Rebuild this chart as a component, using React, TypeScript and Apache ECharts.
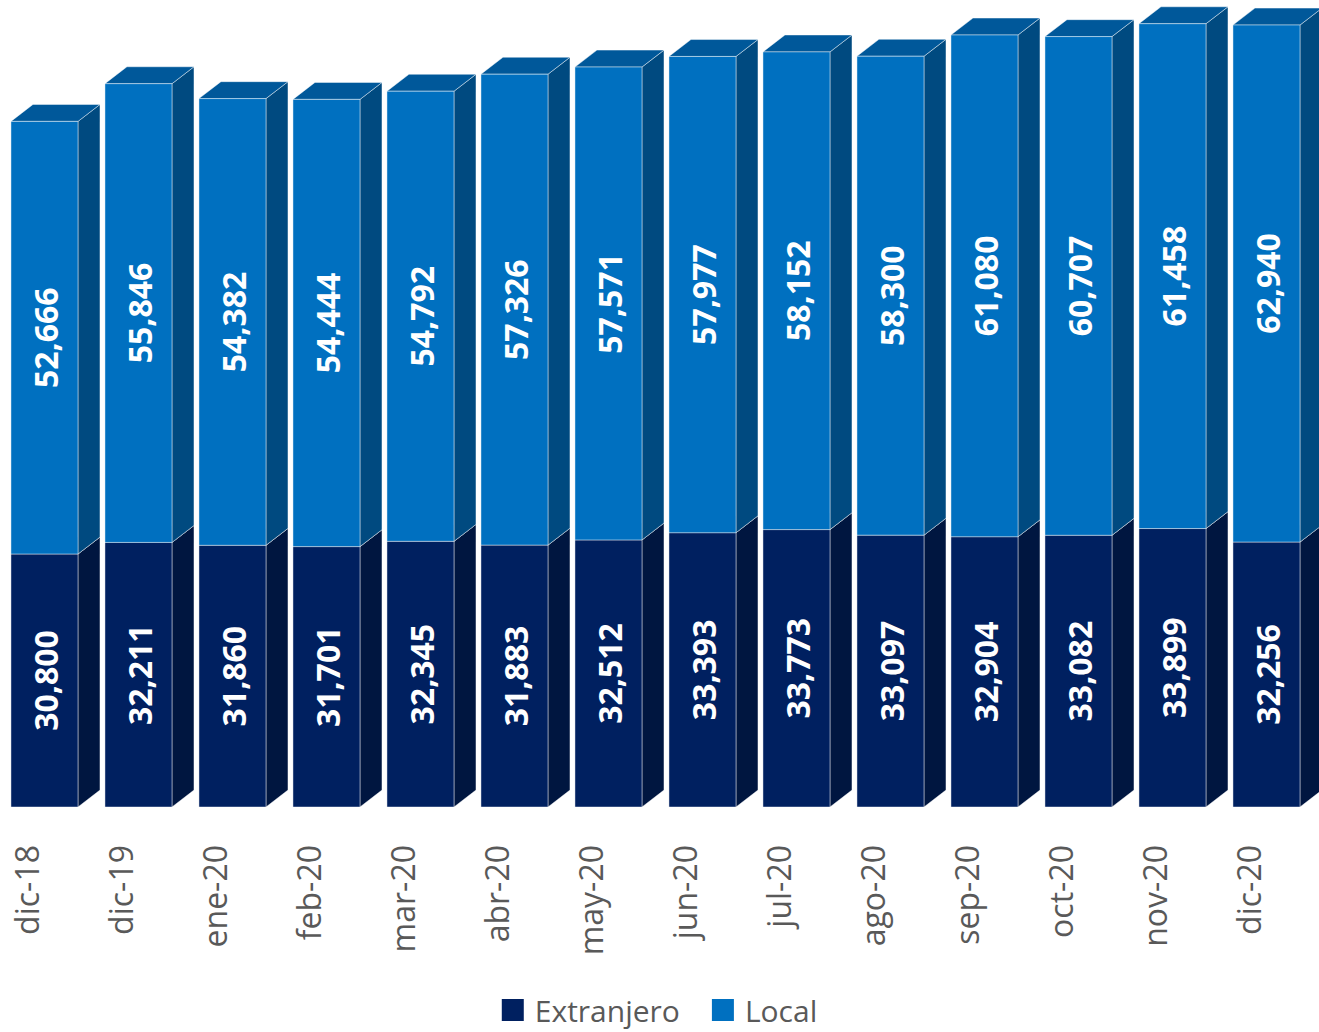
import React, { useEffect, useRef } from "react";
import * as echarts from "echarts";

const categories = ["dic-18", "dic-19", "ene-20", "feb-20", "mar-20", "abr-20", "may-20", "jun-20", "jul-20", "ago-20", "sep-20", "oct-20", "nov-20", "dic-20"];
const extranjero = [30800, 32211, 31860, 31701, 32345, 31883, 32512, 33393, 33773, 33097, 32904, 33082, 33899, 32256];
const local = [52666, 55846, 54382, 54444, 54792, 57326, 57571, 57977, 58152, 58300, 61080, 60707, 61458, 62940];

const COLORS = {
  ext: { front: "#002060", side: "#001640", top: "#001a50" },
  loc: { front: "#0070C0", side: "#004A80", top: "#00589A" },
};

const fmt = (v: number) => v.toLocaleString("en-US");

function makeRender(c: { front: string; side: string; top: string }) {
  return (params: any, api: any) => {
    const i = api.value(0);
    const lo = api.coord([i, api.value(1)]);
    const hi = api.coord([i, api.value(2)]);
    const band = api.size([1, 0])[0];
    const x0 = lo[0] - band * 0.16;
    const w = band * 0.713;
    const dx = band * 0.234;
    const dy = band * 0.18;
    const yb = lo[1];
    const yt = hi[1];
    const stroke = "rgba(255,255,255,0.55)";
    const val = api.value(2) - api.value(1);
    return {
      type: "group",
      children: [
        {
          type: "polygon",
          shape: { points: [[x0 + w, yt], [x0 + w + dx, yt - dy], [x0 + w + dx, yb - dy], [x0 + w, yb]] },
          style: { fill: c.side, stroke, lineWidth: 0.8 },
        },
        {
          type: "polygon",
          shape: { points: [[x0, yt], [x0 + dx, yt - dy], [x0 + w + dx, yt - dy], [x0 + w, yt]] },
          style: { fill: c.top, stroke, lineWidth: 0.8 },
        },
        {
          type: "rect",
          shape: { x: x0, y: yt, width: w, height: yb - yt },
          style: { fill: c.front, stroke, lineWidth: 0.8 },
        },
        {
          type: "text",
          x: x0 + w / 2 + 1,
          y: (yt + yb) / 2,
          rotation: Math.PI / 2,
          style: {
            text: fmt(val),
            fill: "#ffffff",
            font: "bold 32px 'Open Sans'",
            align: "center",
            verticalAlign: "middle",
          },
        },
      ],
    };
  };
}

export default function App() {
  const ref = useRef<HTMLDivElement>(null);
  useEffect(() => {
    document.body.style.margin = "0";
    const chart = echarts.init(ref.current!, null, { renderer: "svg" });
    const extData = categories.map((_, i) => [i, 0, extranjero[i]]);
    const locData = categories.map((_, i) => [i, extranjero[i], extranjero[i] + local[i]]);
    chart.setOption({
      animation: false,
      backgroundColor: "#ffffff",
      grid: { left: -21, width: 1316, top: 2, bottom: 225, containLabel: false, outerBoundsMode: "none" },
      xAxis: {
        type: "category",
        data: categories,
        axisLine: { show: false },
        axisTick: { show: false },
        splitLine: { show: false },
        axisLabel: {
          rotate: 90,
          margin: 38,
          color: "#595959",
          fontSize: 32,
          fontFamily: "Open Sans",
          interval: 0,
        },
      },
      yAxis: { type: "value", min: 0, max: 98000, show: false, splitLine: { show: false } },
      legend: {
        left: "center",
        top: 995,
        padding: 0,
        icon: "rect",
        itemWidth: 22,
        itemHeight: 22,
        itemGap: 32,
        textStyle: { color: "#595959", fontSize: 30, lineHeight: 30, fontFamily: "Open Sans", padding: [0, 0, 0, 6] },
        data: ["Extranjero", "Local"],
      },
      series: [
        {
          type: "custom",
          name: "Extranjero",
          renderItem: makeRender(COLORS.ext),
          encode: { x: 0, y: [1, 2] },
          itemStyle: { color: COLORS.ext.front },
          data: extData,
          clip: false,
        },
        {
          type: "custom",
          name: "Local",
          renderItem: makeRender(COLORS.loc),
          encode: { x: 0, y: [1, 2] },
          itemStyle: { color: COLORS.loc.front },
          data: locData,
          clip: false,
        },
      ],
    });
    return () => chart.dispose();
  }, []);
  return <div ref={ref} style={{ width: 1319, height: 1032 }} />;
}
